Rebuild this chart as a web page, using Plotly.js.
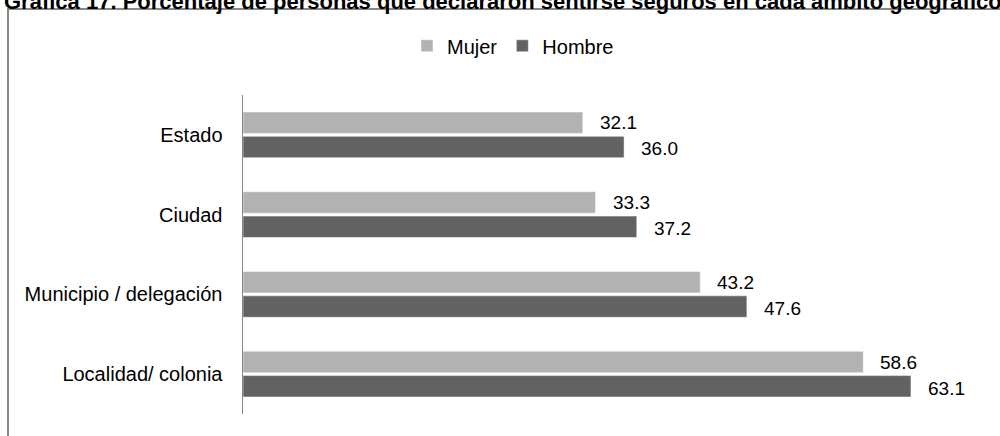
<!DOCTYPE html>
<html>
<head>
<meta charset="utf-8">
<script src="https://cdn.plot.ly/plotly-3.0.1.min.js"></script>
<style>html,body{margin:0;padding:0;background:#fff;}#chart{width:1000px;height:436px;}</style>
</head>
<body>
<div id="chart"></div>
<script>
const chartTitle = "Gráfica 17. Porcentaje de personas que declararon sentirse seguros en cada ámbito geográfico";
const categories = ["Estado", "Ciudad", "Municipio / delegación", "Localidad/ colonia"];
const seriesNames = ["Mujer", "Hombre"];
const mujer = [32.1, 33.3, 43.2, 58.6];
const hombre = [36.0, 37.2, 47.6, 63.1];

const FONT = "Liberation Sans, Arial, sans-serif";
const colors = ["#b2b2b2", "#626262"];

const traces = [mujer, hombre].map((vals, i) => ({
  type: "bar",
  orientation: "h",
  name: seriesNames[i],
  y: categories,
  x: vals,
  marker: {color: colors[i], line: {color: "#ffffff", width: 0.5}},
  hoverinfo: "x+y"
}));

const annotations = [];
[mujer, hombre].forEach((vals, i) => {
  vals.forEach((v, j) => {
    annotations.push({
      x: v, y: categories[j], xref: "x", yref: "y",
      text: v.toFixed(1), showarrow: false,
      xanchor: "left", yanchor: "middle",
      xshift: 15, yshift: i === 0 ? 12 : -14,
      font: {family: FONT, size: 19, color: "#000"}
    });
  });
});
annotations.push({
  text: "<b>" + chartTitle + "</b>",
  xref: "paper", yref: "paper", x: 0, y: 1,
  xanchor: "left", yanchor: "middle",
  xshift: -241, yshift: 94,
  showarrow: false,
  font: {family: FONT, size: 22, color: "#000"}
});

const layout = {
  width: 1000, height: 436,
  margin: {l: 243, r: 16, t: 95, b: 22, pad: 0},
  paper_bgcolor: "#ffffff", plot_bgcolor: "#ffffff",
  font: {family: FONT, size: 20, color: "#000"},
  barmode: "group",
  bargap: 0.39,
  bargroupgap: 0.12,
  showlegend: true,
  legend: {
    orientation: "h", xref: "container", yref: "container",
    x: 0.513, y: 0.895, xanchor: "center", yanchor: "middle",
    font: {family: FONT, size: 20, color: "#000"},
    itemwidth: 30, traceorder: "normal"
  },
  xaxis: {
    range: [0, 70], showgrid: false, zeroline: false, showline: false,
    showticklabels: false, ticks: "", fixedrange: true
  },
  yaxis: {
    type: "category", autorange: "reversed",
    showline: true, linecolor: "#868686", linewidth: 1.5,
    showgrid: false, zeroline: false, ticks: "",
    ticklabelstandoff: 15,
    tickfont: {family: FONT, size: 20, color: "#000"},
    fixedrange: true
  },
  shapes: [{
    type: "rect", xref: "paper", yref: "paper",
    x0: (8 - 243) / 741, x1: 1.2,
    y0: -0.3, y1: 1 + (95 - 9) / 319,
    line: {color: "#888888", width: 2}, fillcolor: "rgba(0,0,0,0)", layer: "below"
  }],
  annotations: annotations
};

Plotly.newPlot("chart", traces, layout, {displayModeBar: false, staticPlot: true});
</script>
</body>
</html>
